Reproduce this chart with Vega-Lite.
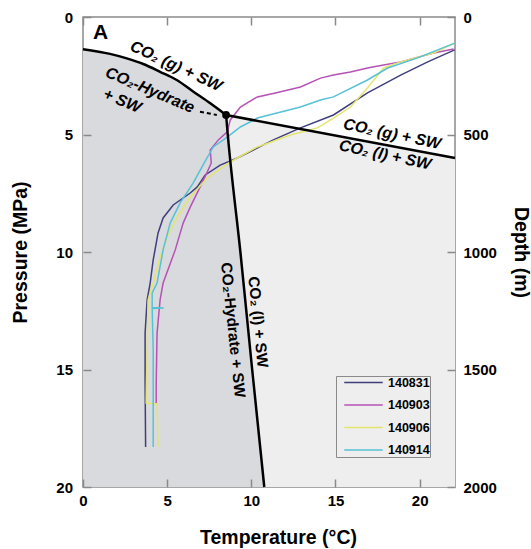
{
  "$schema": "https://vega.github.io/schema/vega-lite/v6.json",
  "width": 372,
  "height": 470,
  "autosize": "none",
  "padding": {"left": 83, "top": 17, "right": 76, "bottom": 62},
  "background": "white",
  "config": {
    "view": {"stroke": "#8a8a8a", "strokeWidth": 1.5},
    "font": "Liberation Sans",
    "axis": {
      "domain": false,
      "grid": false,
      "labelFont": "Liberation Sans",
      "labelFontSize": 15,
      "labelFontWeight": "bold",
      "labelColor": "#000000",
      "labelFlush": false,
      "labelOverlap": false,
      "titleFont": "Liberation Sans",
      "titleFontSize": 19.5,
      "titleFontWeight": "bold",
      "titleColor": "#000000"
    }
  },
  "datasets": {
    "dark": [
      {"T": 0, "P": 1.37}, {"T": 1.6, "P": 1.57}, {"T": 2.6, "P": 1.76}, {"T": 3.58, "P": 2.0},
      {"T": 4.58, "P": 2.33}, {"T": 5.57, "P": 2.68}, {"T": 6.56, "P": 3.18}, {"T": 7.56, "P": 3.67},
      {"T": 8.5, "P": 4.17}, {"T": 8.6, "P": 5.0}, {"T": 9.35, "P": 10}, {"T": 10.05, "P": 15}, {"T": 10.77, "P": 20}
    ],
    "light": [{"T": 8.5, "P": 4.17}, {"T": 22.1, "P": 6.0}],
    "phase": [
      {"seg": "hg", "T": 0, "P": 1.37}, {"seg": "hg", "T": 1.6, "P": 1.57}, {"seg": "hg", "T": 2.6, "P": 1.76},
      {"seg": "hg", "T": 3.58, "P": 2.0}, {"seg": "hg", "T": 4.58, "P": 2.33}, {"seg": "hg", "T": 5.57, "P": 2.68},
      {"seg": "hg", "T": 6.56, "P": 3.18}, {"seg": "hg", "T": 7.56, "P": 3.67}, {"seg": "hg", "T": 8.5, "P": 4.17},
      {"seg": "lv", "T": 8.5, "P": 4.17}, {"seg": "lv", "T": 22.1, "P": 6.0},
      {"seg": "hl", "T": 8.5, "P": 4.17}, {"seg": "hl", "T": 8.6, "P": 5.0}, {"seg": "hl", "T": 9.35, "P": 10},
      {"seg": "hl", "T": 10.05, "P": 15}, {"seg": "hl", "T": 10.77, "P": 20}
    ],
    "profiles": [
      {"cast": "140831", "T": 22.08, "P": 1.40}, {"cast": "140831", "T": 20.48, "P": 1.91}, {"cast": "140831", "T": 18.87, "P": 2.47},
      {"cast": "140831", "T": 16.90, "P": 3.23}, {"cast": "140831", "T": 14.88, "P": 4.17}, {"cast": "140831", "T": 12.92, "P": 4.72},
      {"cast": "140831", "T": 11.31, "P": 5.23}, {"cast": "140831", "T": 10.12, "P": 5.66}, {"cast": "140831", "T": 9.17, "P": 6.00},
      {"cast": "140831", "T": 8.15, "P": 6.30}, {"cast": "140831", "T": 7.26, "P": 6.72}, {"cast": "140831", "T": 6.79, "P": 7.23},
      {"cast": "140831", "T": 6.37, "P": 7.49}, {"cast": "140831", "T": 5.36, "P": 8.00}, {"cast": "140831", "T": 4.76, "P": 8.55},
      {"cast": "140831", "T": 4.46, "P": 9.19}, {"cast": "140831", "T": 4.17, "P": 10.34}, {"cast": "140831", "T": 3.99, "P": 11.32},
      {"cast": "140831", "T": 3.81, "P": 12.04}, {"cast": "140831", "T": 3.69, "P": 13.45}, {"cast": "140831", "T": 3.69, "P": 15.57},
      {"cast": "140831", "T": 3.72, "P": 18.30},

      {"cast": "140903", "T": 22.02, "P": 1.36}, {"cast": "140903", "T": 20.83, "P": 1.53}, {"cast": "140903", "T": 18.87, "P": 1.91},
      {"cast": "140903", "T": 17.86, "P": 2.04}, {"cast": "140903", "T": 16.90, "P": 2.17}, {"cast": "140903", "T": 15.89, "P": 2.34},
      {"cast": "140903", "T": 14.88, "P": 2.47}, {"cast": "140903", "T": 14.11, "P": 2.6}, {"cast": "140903", "T": 12.92, "P": 2.98},
      {"cast": "140903", "T": 11.43, "P": 3.23}, {"cast": "140903", "T": 10.36, "P": 3.40}, {"cast": "140903", "T": 9.35, "P": 3.83},
      {"cast": "140903", "T": 8.75, "P": 4.38}, {"cast": "140903", "T": 8.57, "P": 4.89}, {"cast": "140903", "T": 8.04, "P": 5.23},
      {"cast": "140903", "T": 7.56, "P": 5.66}, {"cast": "140903", "T": 7.62, "P": 6.21}, {"cast": "140903", "T": 7.38, "P": 6.60},
      {"cast": "140903", "T": 6.96, "P": 7.23}, {"cast": "140903", "T": 6.37, "P": 8.09}, {"cast": "140903", "T": 5.95, "P": 8.77},
      {"cast": "140903", "T": 5.48, "P": 9.91}, {"cast": "140903", "T": 4.76, "P": 11.32}, {"cast": "140903", "T": 4.58, "P": 12.04},
      {"cast": "140903", "T": 4.40, "P": 13.45}, {"cast": "140903", "T": 4.35, "P": 15.57}, {"cast": "140903", "T": 4.35, "P": 16.43},

      {"cast": "140906", "T": 22.08, "P": 1.11}, {"cast": "140906", "T": 20.83, "P": 1.53}, {"cast": "140906", "T": 18.87, "P": 1.91},
      {"cast": "140906", "T": 17.86, "P": 2.17}, {"cast": "140906", "T": 16.90, "P": 3.02}, {"cast": "140906", "T": 15.89, "P": 3.83},
      {"cast": "140906", "T": 14.88, "P": 4.30}, {"cast": "140906", "T": 13.93, "P": 4.72}, {"cast": "140906", "T": 12.32, "P": 5.02},
      {"cast": "140906", "T": 10.36, "P": 5.53}, {"cast": "140906", "T": 8.75, "P": 6.17}, {"cast": "140906", "T": 7.38, "P": 6.85},
      {"cast": "140906", "T": 6.37, "P": 7.66}, {"cast": "140906", "T": 5.60, "P": 8.51}, {"cast": "140906", "T": 5.00, "P": 9.36},
      {"cast": "140906", "T": 4.58, "P": 10.21}, {"cast": "140906", "T": 4.17, "P": 11.32}, {"cast": "140906", "T": 3.87, "P": 12.04},
      {"cast": "140906", "T": 3.81, "P": 14.17}, {"cast": "140906", "T": 3.75, "P": 16.43}, {"cast": "140906", "T": 4.40, "P": 16.47},
      {"cast": "140906", "T": 4.46, "P": 18.30},

      {"cast": "140914", "T": 22.08, "P": 1.11}, {"cast": "140914", "T": 19.88, "P": 1.74}, {"cast": "140914", "T": 18.10, "P": 2.17},
      {"cast": "140914", "T": 16.90, "P": 2.68}, {"cast": "140914", "T": 14.88, "P": 3.40}, {"cast": "140914", "T": 14.11, "P": 3.53},
      {"cast": "140914", "T": 12.92, "P": 3.83}, {"cast": "140914", "T": 10.36, "P": 4.30}, {"cast": "140914", "T": 9.35, "P": 4.68},
      {"cast": "140914", "T": 8.57, "P": 5.11}, {"cast": "140914", "T": 7.74, "P": 5.53}, {"cast": "140914", "T": 7.26, "P": 6.13},
      {"cast": "140914", "T": 6.55, "P": 7.06}, {"cast": "140914", "T": 5.77, "P": 7.91}, {"cast": "140914", "T": 5.18, "P": 8.77},
      {"cast": "140914", "T": 4.76, "P": 9.91}, {"cast": "140914", "T": 4.40, "P": 11.32}, {"cast": "140914", "T": 4.11, "P": 11.74},
      {"cast": "140914", "T": 4.11, "P": 12.36}, {"cast": "140914", "T": 4.8, "P": 12.38}, {"cast": "140914", "T": 4.11, "P": 12.40},
      {"cast": "140914", "T": 4.17, "P": 14.17}, {"cast": "140914", "T": 4.17, "P": 18.30}
    ]
  },
  "layer": [
    {
      "encoding": {
        "x": {
          "field": "T", "type": "quantitative",
          "scale": {"domain": [0, 22.1], "nice": false, "zero": false},
          "axis": {
            "orient": "bottom", "values": [0, 5, 10, 15, 20], "zindex": 1,
            "ticks": true, "tickSize": -8, "tickColor": "#8a8a8a", "tickWidth": 1.5, "labelPadding": 14,
            "title": "Temperature (°C)", "titleX": 195, "titleY": 56, "titleBaseline": "alphabetic", "titleAlign": "center"
          }
        },
        "y": {
          "field": "P", "type": "quantitative",
          "scale": {"domain": [0, 20], "reverse": true, "nice": false, "zero": false},
          "axis": {
            "orient": "left", "values": [0, 5, 10, 15, 20], "zindex": 1,
            "ticks": true, "tickSize": -8, "tickColor": "#8a8a8a", "tickWidth": 1.5, "labelPadding": 18.5,
            "title": "Pressure (MPa)", "titleX": -63, "titleY": 235, "titleAngle": -90, "titleBaseline": "middle", "titleAlign": "center"
          }
        }
      },
      "layer": [
        {
          "data": {"name": "light"},
          "mark": {"type": "area", "color": "#eeeeef"},
          "encoding": {"y2": {"datum": 20}}
        },
        {
          "data": {"name": "dark"},
          "mark": {"type": "area", "color": "#d9dadd", "interpolate": "monotone"},
          "encoding": {"y2": {"datum": 20}}
        },
        {
          "data": {"name": "profiles"},
          "mark": {"type": "line", "strokeWidth": 1.5},
          "encoding": {
            "order": {"field": "P", "type": "quantitative"},
            "color": {
              "field": "cast", "type": "nominal",
              "scale": {"domain": ["140831", "140903", "140906", "140914"], "range": ["#3f3f7e", "#b552b5", "#e4e46e", "#55c2d6"]},
              "legend": {
                "orient": "none", "legendX": 253, "legendY": 359, "title": null,
                "strokeColor": "#8a8a8a", "padding": 0, "columnPadding": 0,
                "symbolType": "M-3.5,0H3.5", "symbolSize": 121, "symbolStrokeWidth": 1.5,
                "symbolOffset": 21, "labelOffset": 18, "rowPadding": 9.5,
                "labelFont": "Liberation Sans", "labelFontWeight": "bold", "labelFontSize": 12.5, "labelColor": "#000000"
              }
            }
          }
        },
        {
          "data": {"name": "phase"},
          "mark": {"type": "line", "color": "#000000", "strokeWidth": 2.5, "interpolate": "monotone"},
          "encoding": {"detail": {"field": "seg", "type": "nominal"}}
        },
        {
          "data": {"values": [{"T": 6.95, "P": 4.03}, {"T": 7.95, "P": 4.17}]},
          "mark": {"type": "line", "color": "#000000", "strokeWidth": 2, "strokeDash": [4, 3]},
          "encoding": {}
        },
        {
          "data": {"values": [{"T": 8.5, "P": 4.17}]},
          "mark": {"type": "point", "filled": true, "color": "#000000", "size": 60, "opacity": 1},
          "encoding": {}
        },
        {
          "data": {"values": [{"text": "A", "T": 1.05, "P": 0.68}]},
          "mark": {"type": "text", "fontSize": 21, "fontWeight": "bold", "align": "center", "baseline": "middle", "color": "#000000"},
          "encoding": {"text": {"field": "text"}}
        },
        {
          "data": {"values": [{"text": "CO₂ (g) + SW", "T": 5.53, "P": 2.09}]},
          "mark": {"type": "text", "fontSize": 16, "fontWeight": "bold", "fontStyle": "italic", "angle": 25, "align": "center", "baseline": "middle", "color": "#000000"},
          "encoding": {"text": {"field": "text"}}
        },
        {
          "data": {"values": [{"text": "CO₂-Hydrate", "T": 3.98, "P": 3.11}, {"text": "+ SW", "T": 2.32, "P": 3.57}]},
          "mark": {"type": "text", "fontSize": 16, "fontWeight": "bold", "fontStyle": "italic", "angle": 23, "align": "center", "baseline": "middle", "color": "#000000"},
          "encoding": {"text": {"field": "text"}}
        },
        {
          "data": {"values": [{"text": "CO₂ (g) + SW", "T": 18.36, "P": 4.98}, {"text": "CO₂ (l) + SW", "T": 17.94, "P": 5.87}]},
          "mark": {"type": "text", "fontSize": 16, "fontWeight": "bold", "fontStyle": "italic", "angle": 12, "align": "center", "baseline": "middle", "color": "#000000"},
          "encoding": {"text": {"field": "text"}}
        },
        {
          "data": {"values": [{"text": "CO₂ (l) + SW", "T": 10.4, "P": 12.98}, {"text": "CO₂-Hydrate + SW", "T": 8.91, "P": 13.32}]},
          "mark": {"type": "text", "fontSize": 15.5, "fontWeight": "bold", "angle": 84, "align": "center", "baseline": "middle", "color": "#000000"},
          "encoding": {"text": {"field": "text"}}
        }
      ]
    },
    {
      "data": {"values": [{"T": 0, "depth": 0}]},
      "mark": {"type": "point", "opacity": 0},
      "encoding": {
        "x": {
          "field": "T", "type": "quantitative",
          "scale": {"domain": [0, 22.1], "nice": false, "zero": false},
          "axis": {"orient": "top", "values": [0, 5, 10, 15, 20], "labels": false, "title": null, "zindex": 1,
                   "ticks": true, "tickSize": -8, "tickColor": "#8a8a8a", "tickWidth": 1.5}
        },
        "y": {
          "field": "depth", "type": "quantitative",
          "scale": {"domain": [0, 2000], "reverse": true, "nice": false, "zero": false},
          "axis": {
            "orient": "right", "values": [0, 500, 1000, 1500, 2000], "format": "d", "zindex": 1,
            "ticks": true, "tickSize": -8, "tickColor": "#8a8a8a", "tickWidth": 1.5, "labelPadding": 16,
            "title": "Depth (m)", "titleX": 65, "titleY": 235, "titleAngle": 90, "titleBaseline": "middle", "titleAlign": "center"
          }
        }
      }
    }
  ],
  "resolve": {"scale": {"x": "independent", "y": "independent"}}
}
